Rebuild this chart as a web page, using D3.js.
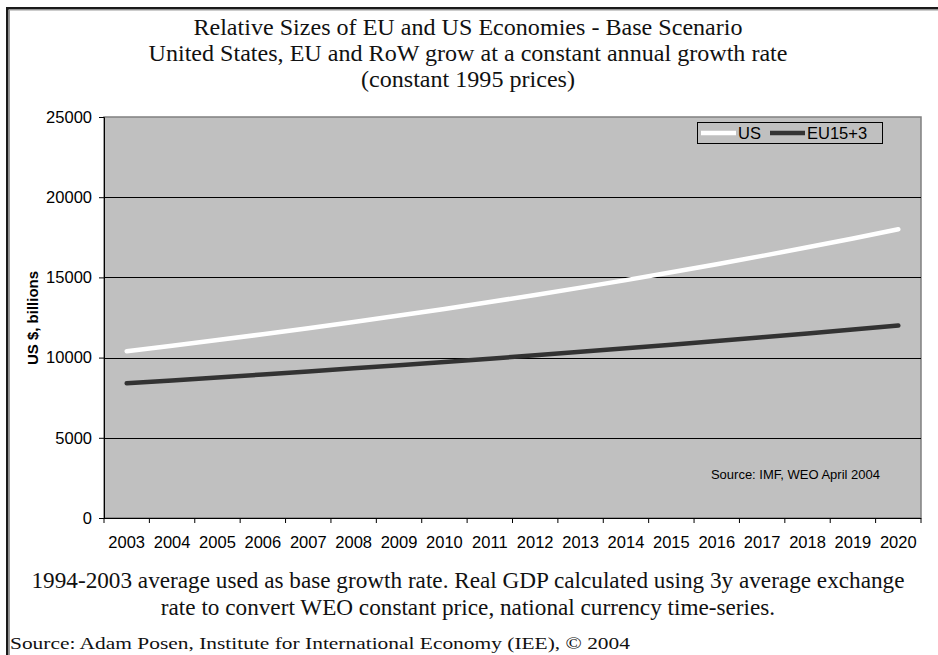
<!DOCTYPE html>
<html><head><meta charset="utf-8">
<script src="https://cdn.jsdelivr.net/npm/d3@7"></script>
<style>body{margin:0;background:#fff;}svg{display:block;}</style>
</head><body>
<svg id="c" width="938" height="655"></svg>
<script>
const years = ["2003","2004","2005","2006","2007","2008","2009","2010","2011","2012","2013","2014","2015","2016","2017","2018","2019","2020"];
const usValues = [10400,10741,11093,11457,11833,12221,12622,13036,13463,13905,14361,14832,15318,15821,16340,16876,17429,18001];
const euValues = [8400,8578,8760,8946,9135,9329,9527,9729,9935,10146,10361,10580,10805,11034,11268,11506,11750,11999];
const yTicks = [0,5000,10000,15000,20000,25000];
const titleLines = ["Relative Sizes of EU and US Economies - Base Scenario","United States, EU and RoW grow at a constant annual growth rate","(constant 1995 prices)"];
const noteLines = ["1994-2003 average used as base growth rate. Real GDP calculated using 3y average exchange","rate to convert WEO constant price, national currency time-series."];
const sourceText = "Source: Adam Posen, Institute for International Economy (IEE), © 2004";
const innerSource = "Source: IMF, WEO April 2004";
const series = [{name:"US", values:usValues, color:"#ffffff"},{name:"EU15+3", values:euValues, color:"#333333"}];

const svg = d3.select("#c");
const L=104, R=921, T=117, B=518;
// outer frame
svg.append("rect").attr("x",6).attr("y",7).attr("width",932).attr("height",2.5).attr("fill","#1a1a1a");
svg.append("rect").attr("x",6).attr("y",7).attr("width",2.5).attr("height",648).attr("fill","#1a1a1a");
svg.append("line").attr("x1",9).attr("x2",938).attr("y1",10).attr("y2",10).attr("stroke","#999");
svg.append("line").attr("x1",9.5).attr("x2",9.5).attr("y1",10).attr("y2",655).attr("stroke","#999");

const serif = "'Liberation Serif','Times New Roman',serif";
const sans = "'Liberation Sans',Arial,sans-serif";

// fit a block of serif lines so the reference line has the given width, same squeeze for all
function serifBlock(lines, cls, ys, size, refIndex, refWidth, xc, anchor) {
  const t = svg.selectAll("text."+cls).data(lines).join("text").attr("class",cls)
    .attr("x",xc).attr("y",(d,i)=>ys[i]).attr("text-anchor",anchor)
    .attr("font-family",serif).attr("font-size",size).attr("fill","#111").text(d=>d);
  const w = t.nodes().map(n=>n.getComputedTextLength());
  const k = refWidth / w[refIndex];
  t.attr("textLength",(d,i)=>w[i]*k).attr("lengthAdjust","spacingAndGlyphs");
}
serifBlock(titleLines,"title",[35,61,87],23,1,639,468,"middle");

const x = d3.scaleBand().domain(years).range([L,R]);
const y = d3.scaleLinear().domain([0,25000]).range([B,T]);

svg.append("rect").attr("x",L).attr("y",T).attr("width",R-L).attr("height",B-T).attr("fill","#c0c0c0").attr("stroke","#808080").attr("stroke-width",1.5);

svg.append("g").selectAll("line").data(yTicks.filter(d=>d>0&&d<25000)).join("line")
  .attr("x1",L).attr("x2",R).attr("y1",d=>Math.round(y(d))+0.5).attr("y2",d=>Math.round(y(d))+0.5)
  .attr("stroke","#000").attr("stroke-width",1);

const yAxis = svg.append("g").attr("transform",`translate(${L},0)`)
  .call(d3.axisLeft(y).tickValues(yTicks).tickSize(5).tickPadding(7).tickFormat(d3.format("d")));
yAxis.select(".domain").attr("stroke","#000");
yAxis.selectAll("text").attr("font-family",sans).attr("font-size",16.5).attr("fill","#000");

const xAxis = svg.append("g").attr("transform",`translate(0,${B})`)
  .call(d3.axisBottom(x).tickSize(0).tickPadding(18));
xAxis.select(".domain").attr("stroke","#000").attr("d",`M${L},0.5H${R}`);
xAxis.selectAll("text").attr("font-family",sans).attr("font-size",16.5).attr("fill","#000");
svg.append("g").selectAll("line").data(years.concat(["end"])).join("line")
  .attr("x1",(d,i)=>L+i*x.step()).attr("x2",(d,i)=>L+i*x.step())
  .attr("y1",B).attr("y2",B+5).attr("stroke","#000");

const line = d3.line().x((d,i)=>x(years[i])+x.bandwidth()/2).y(d=>y(d));
svg.append("g").selectAll("path").data(series).join("path")
  .attr("d",d=>line(d.values)).attr("fill","none").attr("stroke",d=>d.color)
  .attr("stroke-width",4.5).attr("stroke-linecap","round").attr("stroke-linejoin","round");

// legend
const lg = svg.append("g");
lg.append("rect").attr("x",697.5).attr("y",122.5).attr("width",185).attr("height",21).attr("fill","none").attr("stroke","#000");
series.forEach((s,i)=>{
  const x0 = i===0?701:770;
  lg.append("line").attr("x1",x0).attr("x2",x0+35).attr("y1",133).attr("y2",133).attr("stroke",s.color).attr("stroke-width",4.5);
  lg.append("text").attr("x",x0+37).attr("y",139).attr("font-family",sans).attr("font-size",16.5).attr("fill","#000").text(s.name);
});

svg.append("text").attr("x",880).attr("y",479).attr("text-anchor","end").attr("font-family",sans).attr("font-size",13).attr("fill","#000").text(innerSource);

svg.append("text").attr("transform","translate(38,318) rotate(-90)").attr("text-anchor","middle")
  .attr("font-family",sans).attr("font-size",15).attr("font-weight","bold").attr("fill","#000").text("US $, billions");

serifBlock(noteLines,"note",[588,615],23,0,873,468,"middle");

svg.append("text").attr("x",10).attr("y",649).attr("font-family",serif).attr("font-size",17.5).attr("fill","#111")
  .attr("textLength",620).attr("lengthAdjust","spacingAndGlyphs").text(sourceText);
</script>
</body></html>
